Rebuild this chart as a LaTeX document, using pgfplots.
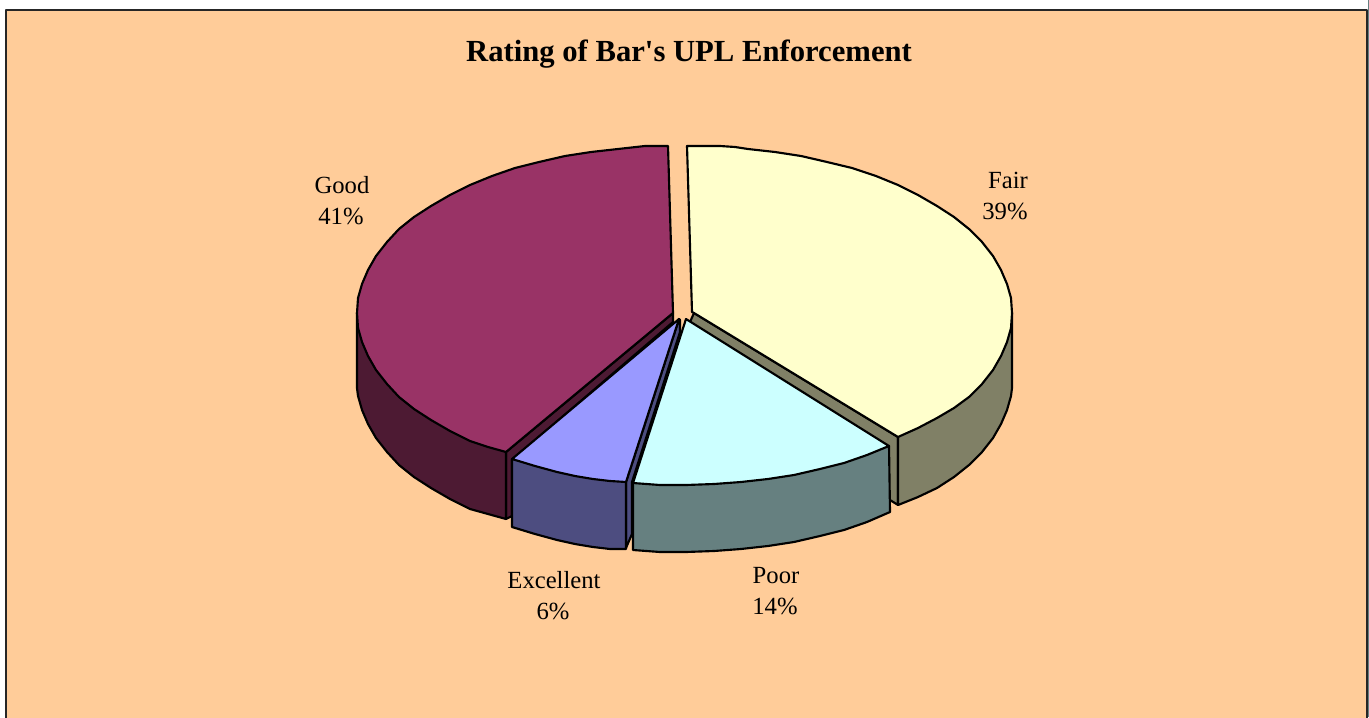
\documentclass[border=0pt]{standalone}
\usepackage{pgfplots}
\pgfplotsset{compat=1.18}
\usepackage{fontspec}
\setmainfont{Liberation Serif}
\newfontfamily\titlefont{Liberation Serif}
\definecolor{bgc}{HTML}{FFCC99}
\definecolor{goodt}{HTML}{993366}
\definecolor{goods}{HTML}{4D1A33}
\definecolor{fairt}{HTML}{FFFFCC}
\definecolor{fairs}{HTML}{808066}
\definecolor{poort}{HTML}{CCFFFF}
\definecolor{poors}{HTML}{668080}
\definecolor{excet}{HTML}{9999FF}
\definecolor{exces}{HTML}{4D4D80}
\begin{document}
\begin{tikzpicture}
\begin{axis}[
  at={(0pt,0pt)}, anchor=south west,
  scale only axis, width=1026.75pt, height=537.75pt,
  xmin=0, xmax=1369, ymin=0, ymax=717, y dir=reverse,
  hide axis, clip=true,
  every axis plot/.append style={mark=none, draw=black, line width=1.6pt, line join=round},
]
% chart area
\addplot[fill=bgc, line width=1.6pt, draw=black!85] coordinates {(6,10) (1367,10) (1367,740) (6,740)} --cycle;
\addplot[fill=poors, draw=none] coordinates {(1368.3,0) (1369,0) (1369,717) (1368.3,717)} --cycle;
% Fair
\addplot[fill=fairs] coordinates {(694,313) (898,437) (898,505) (890,500) (690,322)} --cycle;
\addplot[fill=fairs] coordinates {(1012,313) (1012,388) (1011,396) (1007,410) (1001,424) (993,438) (982,452) (969,465) (954,477) (937,488) (918,497) (898,505) (898,437)} --cycle;
\addplot[fill=fairt] coordinates {(687,146) (700,146) (720,146) (735,147) (748,149) (775,152) (801,156) (827,162) (852,168) (876,176) (898,185) (918,195) (937,206) (954,217) (969,229) (982,242) (993,256) (1001,270) (1007,284) (1011,298) (1012,313) (1011,328) (1007,342) (1001,356) (993,370) (982,384) (969,397) (954,408) (937,418) (918,428) (898,437) (694,313) (692,312)} --cycle;
% Good
\addplot[fill=goods] coordinates {(506,452) (673,313) (673,322) (512,460) (512,516) (506,519)} --cycle;
\addplot[fill=goods] coordinates {(357,313) (357,388) (358,396) (362,410) (368,424) (376,438) (387,452) (399,465) (414,477) (431,488) (450,499) (470,509) (488,514) (506,519) (506,452)} --cycle;
\addplot[fill=goodt] coordinates {(668,146) (645,146) (618,149) (591,152) (565,156) (539,162) (515,168) (492,176) (470,185) (450,195) (431,206) (414,217) (399,229) (387,242) (376,256) (368,270) (362,284) (358,298) (357,313) (358,328) (362,342) (368,356) (376,370) (387,384) (399,397) (414,409) (431,420) (450,431) (470,441) (488,447) (506,452) (673,313)} --cycle;
% Excellent
\addplot[fill=exces] coordinates {(626,482) (626,548) (632,534) (632,482) (680,332) (680,320) (679,319)} --cycle;
\addplot[fill=exces] coordinates {(512,459) (512,527) (535,534) (557,540) (575,544) (593,547) (610,549) (626,549) (626,482)} --cycle;
\addplot[fill=excet] coordinates {(679,319) (512,459) (535,466) (557,472) (575,476) (593,479) (610,481) (626,482)} --cycle;
% Poor
\addplot[fill=poors] coordinates {(633,482) (633,550) (660,552) (686,552) (714,551) (741,549) (768,546) (794,542) (820,536) (844,530) (867,522) (890,512) (889,446)} --cycle;
\addplot[fill=poort] coordinates {(686,319) (633,483) (660,485) (686,485) (714,484) (741,482) (768,479) (794,475) (820,469) (844,463) (867,455) (889,446)} --cycle;
% text
\node[font=\titlefont\fontsize{23}{26}\selectfont\bfseries] at (axis cs:689,54) {Rating of Bar's UPL Enforcement};
\node[font=\fontsize{18.5}{20}\selectfont] at (axis cs:1008,180) {Fair};
\node[font=\fontsize{18.5}{20}\selectfont] at (axis cs:1005,211) {39\%};
\node[font=\fontsize{18.5}{20}\selectfont] at (axis cs:342,185) {Good};
\node[font=\fontsize{18.5}{20}\selectfont] at (axis cs:341,216) {41\%};
\node[font=\fontsize{18.5}{20}\selectfont] at (axis cs:554,580) {Excellent};
\node[font=\fontsize{18.5}{20}\selectfont] at (axis cs:553,611) {6\%};
\node[font=\fontsize{18.5}{20}\selectfont] at (axis cs:776,576) {Poor};
\node[font=\fontsize{18.5}{20}\selectfont] at (axis cs:775,606) {14\%};
\end{axis}
\pgfresetboundingbox
\useasboundingbox (0pt,0pt) rectangle (1026.75pt,537.75pt);
\end{tikzpicture}
\end{document}
